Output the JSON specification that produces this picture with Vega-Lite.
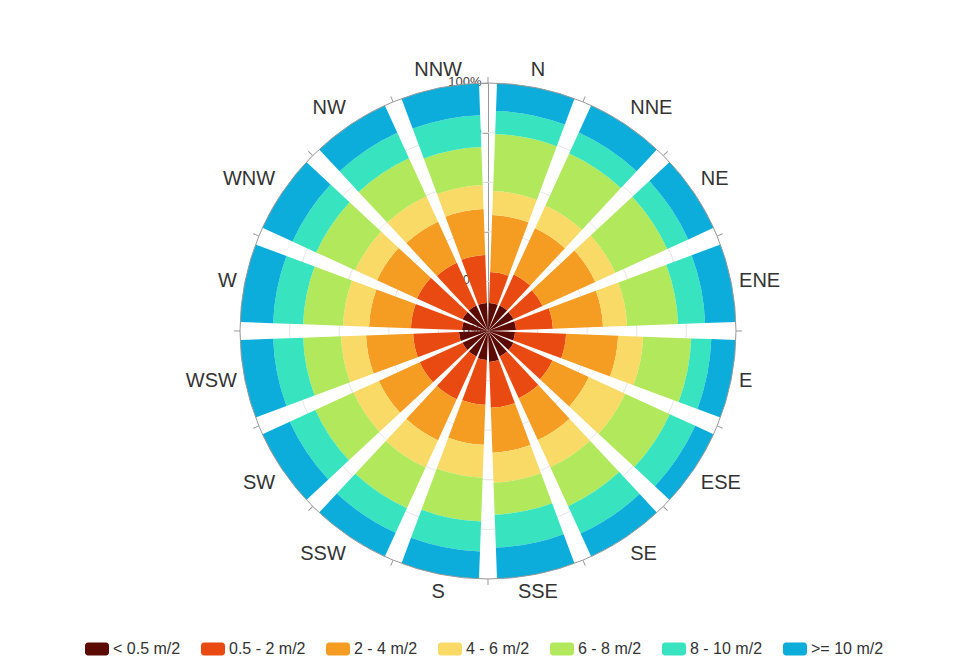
{
  "$schema": "https://vega.github.io/schema/vega-lite/v6.json",
  "width": 976,
  "height": 662,
  "autosize": {"type": "none"},
  "padding": 0,
  "background": "white",
  "config": {"view": {"stroke": null}, "font": "Liberation Sans"},
  "datasets": {
    "ticks": [{"v": 0}, {"v": 0.2}, {"v": 0.4}, {"v": 0.6}, {"v": 0.8}, {"v": 1}],
    "rings": [{"v": 0.2}, {"v": 0.4}, {"v": 0.6}, {"v": 0.8}],
    "dirs": [{"dir": "N"}, {"dir": "NNE"}, {"dir": "NE"}, {"dir": "ENE"}, {"dir": "E"}, {"dir": "ESE"}, {"dir": "SE"}, {"dir": "SSE"}, {"dir": "S"}, {"dir": "SSW"}, {"dir": "SW"}, {"dir": "WSW"}, {"dir": "W"}, {"dir": "WNW"}, {"dir": "NW"}, {"dir": "NNW"}],
    "wind": [
      {"dir": "N", "speed": "< 0.5 m/2", "k": 1, "pct": 11.3}, {"dir": "N", "speed": "0.5 - 2 m/2", "k": 2, "pct": 12.5}, {"dir": "N", "speed": "2 - 4 m/2", "k": 3, "pct": 23.0}, {"dir": "N", "speed": "4 - 6 m/2", "k": 4, "pct": 9.7}, {"dir": "N", "speed": "6 - 8 m/2", "k": 5, "pct": 23.0}, {"dir": "N", "speed": "8 - 10 m/2", "k": 6, "pct": 9.3}, {"dir": "N", "speed": ">= 10 m/2", "k": 7, "pct": 11.2},
      {"dir": "NNE", "speed": "< 0.5 m/2", "k": 1, "pct": 11.3}, {"dir": "NNE", "speed": "0.5 - 2 m/2", "k": 2, "pct": 13.7}, {"dir": "NNE", "speed": "2 - 4 m/2", "k": 3, "pct": 20.6}, {"dir": "NNE", "speed": "4 - 6 m/2", "k": 4, "pct": 10.1}, {"dir": "NNE", "speed": "6 - 8 m/2", "k": 5, "pct": 23.0}, {"dir": "NNE", "speed": "8 - 10 m/2", "k": 6, "pct": 9.3}, {"dir": "NNE", "speed": ">= 10 m/2", "k": 7, "pct": 12.0},
      {"dir": "NE", "speed": "< 0.5 m/2", "k": 1, "pct": 11.3}, {"dir": "NE", "speed": "0.5 - 2 m/2", "k": 2, "pct": 12.9}, {"dir": "NE", "speed": "2 - 4 m/2", "k": 3, "pct": 23.4}, {"dir": "NE", "speed": "4 - 6 m/2", "k": 4, "pct": 8.9}, {"dir": "NE", "speed": "6 - 8 m/2", "k": 5, "pct": 23.0}, {"dir": "NE", "speed": "8 - 10 m/2", "k": 6, "pct": 9.3}, {"dir": "NE", "speed": ">= 10 m/2", "k": 7, "pct": 11.2},
      {"dir": "ENE", "speed": "< 0.5 m/2", "k": 1, "pct": 11.3}, {"dir": "ENE", "speed": "0.5 - 2 m/2", "k": 2, "pct": 14.9}, {"dir": "ENE", "speed": "2 - 4 m/2", "k": 3, "pct": 20.2}, {"dir": "ENE", "speed": "4 - 6 m/2", "k": 4, "pct": 9.7}, {"dir": "ENE", "speed": "6 - 8 m/2", "k": 5, "pct": 20.6}, {"dir": "ENE", "speed": "8 - 10 m/2", "k": 6, "pct": 10.9}, {"dir": "ENE", "speed": ">= 10 m/2", "k": 7, "pct": 12.4},
      {"dir": "E", "speed": "< 0.5 m/2", "k": 1, "pct": 10.9}, {"dir": "E", "speed": "0.5 - 2 m/2", "k": 2, "pct": 20.6}, {"dir": "E", "speed": "2 - 4 m/2", "k": 3, "pct": 21.0}, {"dir": "E", "speed": "4 - 6 m/2", "k": 4, "pct": 10.1}, {"dir": "E", "speed": "6 - 8 m/2", "k": 5, "pct": 19.4}, {"dir": "E", "speed": "8 - 10 m/2", "k": 6, "pct": 8.1}, {"dir": "E", "speed": ">= 10 m/2", "k": 7, "pct": 9.9},
      {"dir": "ESE", "speed": "< 0.5 m/2", "k": 1, "pct": 11.3}, {"dir": "ESE", "speed": "0.5 - 2 m/2", "k": 2, "pct": 17.3}, {"dir": "ESE", "speed": "2 - 4 m/2", "k": 3, "pct": 16.1}, {"dir": "ESE", "speed": "4 - 6 m/2", "k": 4, "pct": 16.1}, {"dir": "ESE", "speed": "6 - 8 m/2", "k": 5, "pct": 19.8}, {"dir": "ESE", "speed": "8 - 10 m/2", "k": 6, "pct": 11.3}, {"dir": "ESE", "speed": ">= 10 m/2", "k": 7, "pct": 8.1},
      {"dir": "SE", "speed": "< 0.5 m/2", "k": 1, "pct": 11.3}, {"dir": "SE", "speed": "0.5 - 2 m/2", "k": 2, "pct": 18.5}, {"dir": "SE", "speed": "2 - 4 m/2", "k": 3, "pct": 18.5}, {"dir": "SE", "speed": "4 - 6 m/2", "k": 4, "pct": 12.1}, {"dir": "SE", "speed": "6 - 8 m/2", "k": 5, "pct": 17.3}, {"dir": "SE", "speed": "8 - 10 m/2", "k": 6, "pct": 12.1}, {"dir": "SE", "speed": ">= 10 m/2", "k": 7, "pct": 10.2},
      {"dir": "SSE", "speed": "< 0.5 m/2", "k": 1, "pct": 12.5}, {"dir": "SSE", "speed": "0.5 - 2 m/2", "k": 2, "pct": 18.5}, {"dir": "SSE", "speed": "2 - 4 m/2", "k": 3, "pct": 18.1}, {"dir": "SSE", "speed": "4 - 6 m/2", "k": 4, "pct": 12.1}, {"dir": "SSE", "speed": "6 - 8 m/2", "k": 5, "pct": 12.9}, {"dir": "SSE", "speed": "8 - 10 m/2", "k": 6, "pct": 13.3}, {"dir": "SSE", "speed": ">= 10 m/2", "k": 7, "pct": 12.6},
      {"dir": "S", "speed": "< 0.5 m/2", "k": 1, "pct": 11.7}, {"dir": "S", "speed": "0.5 - 2 m/2", "k": 2, "pct": 18.1}, {"dir": "S", "speed": "2 - 4 m/2", "k": 3, "pct": 16.1}, {"dir": "S", "speed": "4 - 6 m/2", "k": 4, "pct": 13.3}, {"dir": "S", "speed": "6 - 8 m/2", "k": 5, "pct": 17.7}, {"dir": "S", "speed": "8 - 10 m/2", "k": 6, "pct": 12.1}, {"dir": "S", "speed": ">= 10 m/2", "k": 7, "pct": 11.0},
      {"dir": "SSW", "speed": "< 0.5 m/2", "k": 1, "pct": 11.3}, {"dir": "SSW", "speed": "0.5 - 2 m/2", "k": 2, "pct": 19.0}, {"dir": "SSW", "speed": "2 - 4 m/2", "k": 3, "pct": 18.1}, {"dir": "SSW", "speed": "4 - 6 m/2", "k": 4, "pct": 12.1}, {"dir": "SSW", "speed": "6 - 8 m/2", "k": 5, "pct": 18.1}, {"dir": "SSW", "speed": "8 - 10 m/2", "k": 6, "pct": 10.9}, {"dir": "SSW", "speed": ">= 10 m/2", "k": 7, "pct": 10.5},
      {"dir": "SW", "speed": "< 0.5 m/2", "k": 1, "pct": 11.3}, {"dir": "SW", "speed": "0.5 - 2 m/2", "k": 2, "pct": 19.0}, {"dir": "SW", "speed": "2 - 4 m/2", "k": 3, "pct": 18.1}, {"dir": "SW", "speed": "4 - 6 m/2", "k": 4, "pct": 11.3}, {"dir": "SW", "speed": "6 - 8 m/2", "k": 5, "pct": 16.9}, {"dir": "SW", "speed": "8 - 10 m/2", "k": 6, "pct": 11.3}, {"dir": "SW", "speed": ">= 10 m/2", "k": 7, "pct": 12.1},
      {"dir": "WSW", "speed": "< 0.5 m/2", "k": 1, "pct": 11.7}, {"dir": "WSW", "speed": "0.5 - 2 m/2", "k": 2, "pct": 18.5}, {"dir": "WSW", "speed": "2 - 4 m/2", "k": 3, "pct": 19.0}, {"dir": "WSW", "speed": "4 - 6 m/2", "k": 4, "pct": 10.1}, {"dir": "WSW", "speed": "6 - 8 m/2", "k": 5, "pct": 15.3}, {"dir": "WSW", "speed": "8 - 10 m/2", "k": 6, "pct": 12.1}, {"dir": "WSW", "speed": ">= 10 m/2", "k": 7, "pct": 13.3},
      {"dir": "W", "speed": "< 0.5 m/2", "k": 1, "pct": 10.5}, {"dir": "W", "speed": "0.5 - 2 m/2", "k": 2, "pct": 20.6}, {"dir": "W", "speed": "2 - 4 m/2", "k": 3, "pct": 16.9}, {"dir": "W", "speed": "4 - 6 m/2", "k": 4, "pct": 10.5}, {"dir": "W", "speed": "6 - 8 m/2", "k": 5, "pct": 16.1}, {"dir": "W", "speed": "8 - 10 m/2", "k": 6, "pct": 12.1}, {"dir": "W", "speed": ">= 10 m/2", "k": 7, "pct": 13.3},
      {"dir": "WNW", "speed": "< 0.5 m/2", "k": 1, "pct": 11.3}, {"dir": "WNW", "speed": "0.5 - 2 m/2", "k": 2, "pct": 20.2}, {"dir": "WNW", "speed": "2 - 4 m/2", "k": 3, "pct": 17.7}, {"dir": "WNW", "speed": "4 - 6 m/2", "k": 4, "pct": 9.7}, {"dir": "WNW", "speed": "6 - 8 m/2", "k": 5, "pct": 17.3}, {"dir": "WNW", "speed": "8 - 10 m/2", "k": 6, "pct": 10.5}, {"dir": "WNW", "speed": ">= 10 m/2", "k": 7, "pct": 13.3},
      {"dir": "NW", "speed": "< 0.5 m/2", "k": 1, "pct": 11.3}, {"dir": "NW", "speed": "0.5 - 2 m/2", "k": 2, "pct": 19.0}, {"dir": "NW", "speed": "2 - 4 m/2", "k": 3, "pct": 18.1}, {"dir": "NW", "speed": "4 - 6 m/2", "k": 4, "pct": 11.3}, {"dir": "NW", "speed": "6 - 8 m/2", "k": 5, "pct": 16.9}, {"dir": "NW", "speed": "8 - 10 m/2", "k": 6, "pct": 11.3}, {"dir": "NW", "speed": ">= 10 m/2", "k": 7, "pct": 12.1},
      {"dir": "NNW", "speed": "< 0.5 m/2", "k": 1, "pct": 11.3}, {"dir": "NNW", "speed": "0.5 - 2 m/2", "k": 2, "pct": 19.4}, {"dir": "NNW", "speed": "2 - 4 m/2", "k": 3, "pct": 18.5}, {"dir": "NNW", "speed": "4 - 6 m/2", "k": 4, "pct": 9.7}, {"dir": "NNW", "speed": "6 - 8 m/2", "k": 5, "pct": 15.3}, {"dir": "NNW", "speed": "8 - 10 m/2", "k": 6, "pct": 12.9}, {"dir": "NNW", "speed": ">= 10 m/2", "k": 7, "pct": 12.9}
    ]
  },
  "resolve": {"scale": {"theta": "independent"}},
  "layer": [
    {
      "data": {"name": "ticks"},
      "mark": {"type": "point", "opacity": 0},
      "encoding": {
        "y": {
          "field": "v", "type": "quantitative",
          "scale": {"domain": [0, 1], "range": [331, 83]},
          "axis": {"orient": "left", "offset": -488, "values": [0, 0.2, 0.4, 0.6, 0.8, 1], "format": ".0%", "title": null, "grid": false, "domainColor": "#999999", "tickColor": "#999999", "tickSize": 6, "labelColor": "#444444", "labelFontSize": 13, "labelPadding": 1, "labelOffset": -2, "labelFont": "Liberation Sans"}
        }
      }
    },
    {
      "data": {"name": "rings"},
      "mark": {"type": "arc", "theta": 0, "theta2": 6.2832, "filled": false, "stroke": "#e6e6e6", "strokeWidth": 1},
      "encoding": {
        "radius": {"field": "v", "type": "quantitative", "stack": null, "scale": {"type": "linear", "domain": [0, 1], "range": [0, 248], "zero": true}}
      }
    },
    {
      "data": {"name": "wind"},
      "mark": {"type": "arc", "strokeWidth": 0},
      "encoding": {
        "theta": {
          "field": "dir", "type": "nominal",
          "sort": ["N", "NNE", "NE", "ENE", "E", "ESE", "SE", "SSE", "S", "SSW", "SW", "WSW", "W", "WNW", "NW", "NNW"],
          "scale": {"type": "band", "paddingInner": 0.185, "paddingOuter": 0.0925}
        },
        "radius": {"field": "pct", "type": "quantitative", "stack": "normalize"},
        "color": {
          "field": "speed", "type": "nominal",
          "sort": ["< 0.5 m/2", "0.5 - 2 m/2", "2 - 4 m/2", "4 - 6 m/2", "6 - 8 m/2", "8 - 10 m/2", ">= 10 m/2"],
          "scale": {
            "domain": ["< 0.5 m/2", "0.5 - 2 m/2", "2 - 4 m/2", "4 - 6 m/2", "6 - 8 m/2", "8 - 10 m/2", ">= 10 m/2"],
            "range": ["#5b0a04", "#e84a12", "#f59c22", "#f9da66", "#b2e85b", "#37e4bf", "#0cadda"]
          },
          "legend": {
            "orient": "none", "legendX": 85, "legendY": 637, "direction": "horizontal", "columns": 7,
            "title": null, "padding": 0, "columnPadding": 20, "labelOffset": 4,
            "labelFontSize": 16, "labelColor": "#333333", "labelFont": "Liberation Sans",
            "symbolType": "M-0.75,-0.54 L0.75,-0.54 A0.25,0.25 0 0 1 1,-0.29 L1,0.29 A0.25,0.25 0 0 1 0.75,0.54 L-0.75,0.54 A0.25,0.25 0 0 1 -1,0.29 L-1,-0.29 A0.25,0.25 0 0 1 -0.75,-0.54 Z",
            "symbolSize": 576, "symbolStrokeWidth": 0, "symbolOpacity": 1
          }
        },
        "order": {"field": "k", "type": "quantitative", "sort": "ascending"}
      }
    },
    {
      "data": {"name": "dirs"},
      "mark": {"type": "arc", "radius": 248, "radius2": 254, "fill": "#999999"},
      "encoding": {
        "theta": {
          "field": "dir", "type": "nominal",
          "sort": ["N", "NNE", "NE", "ENE", "E", "ESE", "SE", "SSE", "S", "SSW", "SW", "WSW", "W", "WNW", "NW", "NNW"],
          "scale": {"type": "band", "range": [-0.19635, 6.08684], "paddingInner": 0.99, "paddingOuter": 0.495}
        }
      }
    },
    {
      "data": {"name": "rings"},
      "transform": [{"filter": "datum.v == 0.2"}],
      "mark": {"type": "arc", "theta": 0, "theta2": 6.2832, "radius": 248, "filled": false, "stroke": "#999999", "strokeWidth": 1}
    },
    {
      "data": {"name": "dirs"},
      "mark": {
        "type": "text", "radius": 256, "fontSize": 20, "color": "#333333", "font": "Liberation Sans",
        "align": {"expr": "indexof(['NNE','NE','ENE','E','ESE','SE'], datum.dir) >= 0 ? 'left' : (indexof(['N','NNW','S','SSE'], datum.dir) >= 0 ? 'center' : 'right')"},
        "baseline": {"expr": "indexof(['N','NNW','NNE','NE','NW','WNW'], datum.dir) >= 0 ? 'bottom' : (indexof(['S','SSE','SSW','SW','SE','ESE'], datum.dir) >= 0 ? 'top' : 'middle')"}
      },
      "encoding": {
        "theta": {
          "field": "dir", "type": "nominal",
          "sort": ["N", "NNE", "NE", "ENE", "E", "ESE", "SE", "SSE", "S", "SSW", "SW", "WSW", "W", "WNW", "NW", "NNW"],
          "scale": {"type": "band", "paddingInner": 0.185, "paddingOuter": 0.0925}
        },
        "text": {"field": "dir"}
      }
    }
  ]
}
